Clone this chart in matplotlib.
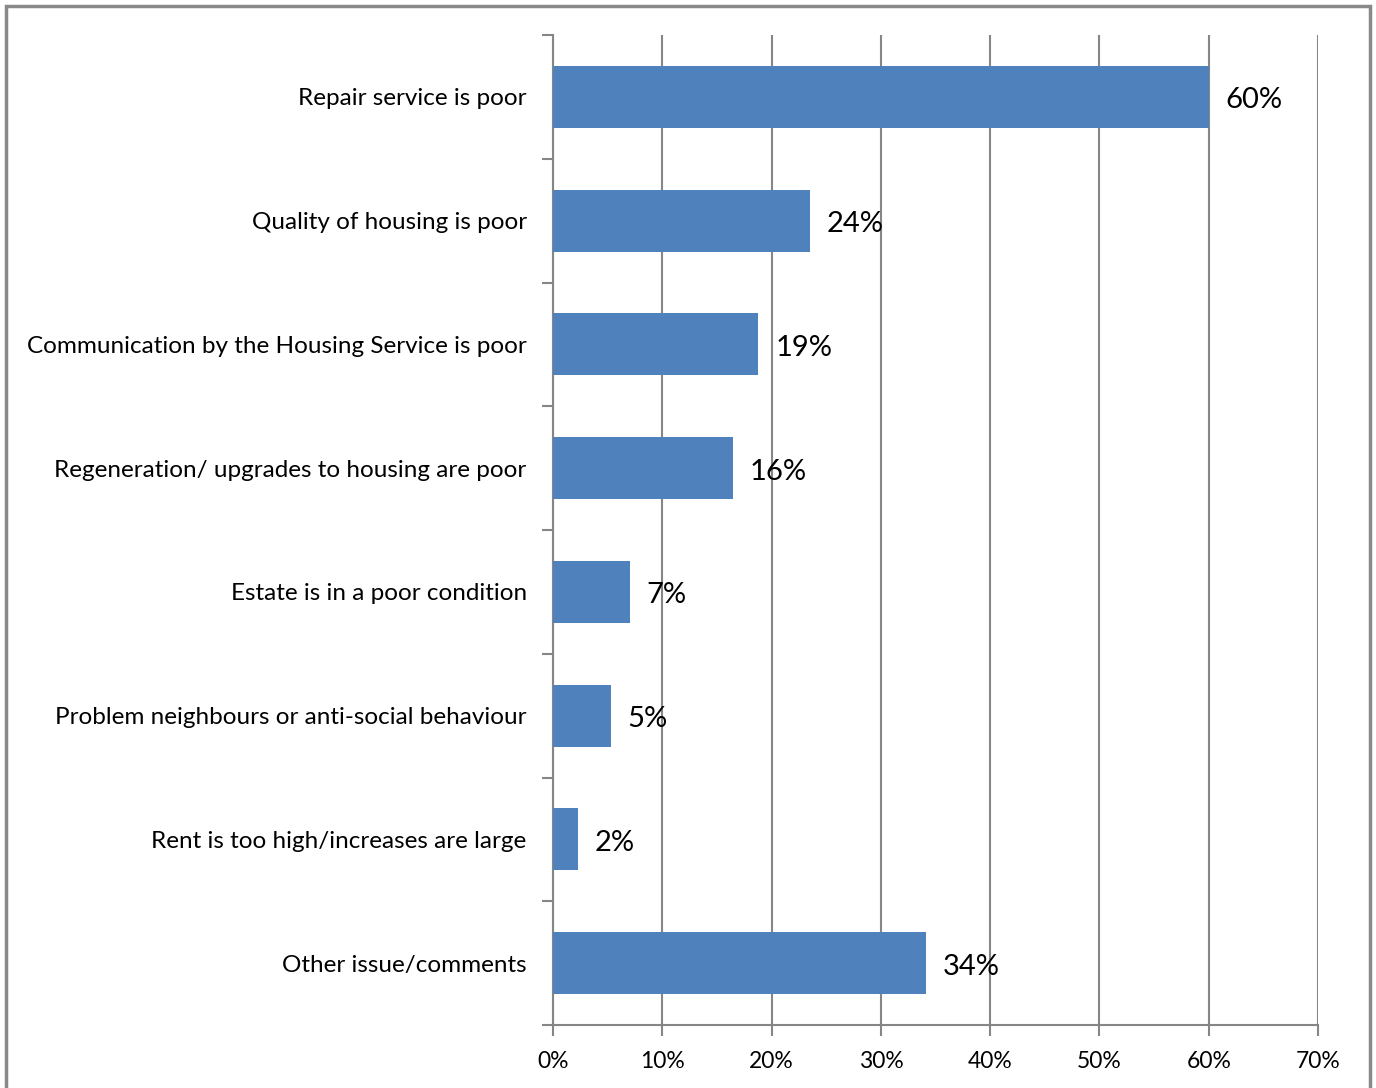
import numpy as np
import matplotlib
matplotlib.use("Agg")
import matplotlib.pyplot as plt
from matplotlib.patches import Rectangle
from matplotlib.ticker import FixedLocator

# data
categories = [
    "Repair service is poor",
    "Quality of housing is poor",
    "Communication by the Housing Service is poor",
    "Regeneration/ upgrades to housing are poor",
    "Estate is in a poor condition",
    "Problem neighbours or anti-social behaviour",
    "Rent is too high/increases are large",
    "Other issue/comments",
]
values = [60.0, 23.5, 18.8, 16.5, 7.0, 5.3, 2.3, 34.1]
labels = ["60%", "24%", "19%", "16%", "7%", "5%", "2%", "34%"]
xticks = [0, 10, 20, 30, 40, 50, 60, 70]

plt.rcParams['font.family'] = ['Lato', 'DejaVu Sans']

fig = plt.figure(figsize=(13.76, 10.88), dpi=100)
ax = fig.add_axes([0.4019, 0.0579, 0.5560, 0.9099])

y = np.arange(len(categories))
ax.barh(y, values, height=0.5, color="#4F81BD", zorder=3)

for yi, v, lab in zip(y, values, labels):
    ax.annotate(lab, (v, yi), xytext=(12, -2.5), textcoords="offset points",
                va="center", ha="left", fontsize=21, color="black", zorder=4)

ax.set_xlim(0, 70)
ax.set_ylim(len(categories) - 0.5, -0.5)
ax.set_xticks(xticks)
ax.set_xticklabels([f"{t}%" for t in xticks], fontsize=16.5)
ax.set_yticks(y)
ax.set_yticklabels(categories, fontsize=17.5)

# ticks sit on category boundaries, labels in the middle
ax.yaxis.set_minor_locator(FixedLocator(np.arange(-0.5, len(categories), 1.0)))
ax.tick_params(axis="y", which="major", length=0, pad=19)
ax.tick_params(axis="y", which="minor", length=8, width=1.5, color="#868686")
ax.tick_params(axis="x", length=8, width=1.5, color="#868686", pad=11)

ax.grid(axis="x", color="#868686", linewidth=1.5, zorder=0)
for s in ["top", "right"]:
    ax.spines[s].set_visible(False)
for s in ["left", "bottom"]:
    ax.spines[s].set_color("#868686")
    ax.spines[s].set_linewidth(1.5)

# outer chart border
fig.patches.append(Rectangle((6 / 1376, -0.01), 1364 / 1376, 1 - 6 / 1088 + 0.01,
                             transform=fig.transFigure, fill=False,
                             edgecolor="#898989", linewidth=2.5))

fig.savefig("out.png", dpi=100)
